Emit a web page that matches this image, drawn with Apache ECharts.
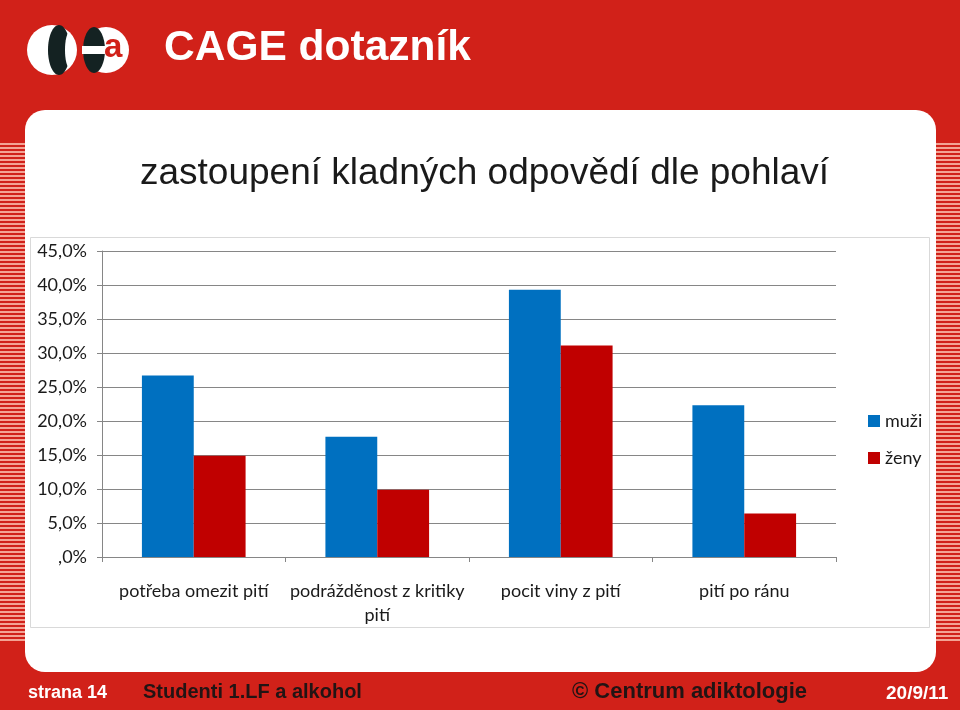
<!DOCTYPE html>
<html><head><meta charset="utf-8">
<script src="https://cdn.jsdelivr.net/npm/echarts@6/dist/echarts.min.js"></script>
<style>html,body{margin:0;padding:0;background:#d12119;}#c{width:960px;height:710px;}</style>
</head><body><div id="c"></div>
<script>
const categories = ['potřeba omezit pití', 'podrážděnost z kritiky pití', 'pocit viny z pití', 'pití po ránu'];
const muzi = [26.7, 17.7, 39.3, 22.3];
const zeny = [14.9, 9.9, 31.1, 6.4];
const seriesNames = ['muži', 'ženy'];
const yTicks = [0, 5, 10, 15, 20, 25, 30, 35, 40, 45];

const RED = '#d12119';
const stripes = [];
function addStripes(x, w, y0, y1) {
  for (let y = y0; y < y1; y += 4) {
    stripes.push({ type: 'rect', silent: true, shape: { x: x, y: y, width: w, height: 2 }, style: { fill: '#f3a394' } });
  }
}
addStripes(0, 25, 143, 643);
addStripes(936, 24, 143, 641);

function wrapWords(s, maxChars) {
  const words = s.split(' ');
  const lines = [];
  let cur = '';
  words.forEach(function (w) {
    const next = cur ? cur + ' ' + w : w;
    if (next.length > maxChars && cur) { lines.push(cur); cur = w; } else { cur = next; }
  });
  if (cur) lines.push(cur);
  return lines.join('\n');
}

const chart = echarts.init(document.getElementById('c'), null, { renderer: 'canvas' });
chart.setOption({
  backgroundColor: RED,
  animation: false,
  graphic: [
    { type: 'rect', z: -10, silent: true, shape: { x: 25, y: 110, width: 911, height: 562, r: 20 }, style: { fill: '#ffffff' } },
    ...stripes,
    { type: 'rect', z: -5, silent: true, shape: { x: 30.5, y: 237.5, width: 899, height: 390 }, style: { fill: 'none', stroke: '#d9d9d9', lineWidth: 1 } },
    // logo
    { type: 'circle', silent: true, shape: { cx: 52, cy: 50, r: 25 }, style: { fill: '#ffffff' } },
    { type: 'ellipse', silent: true, shape: { cx: 59, cy: 50, rx: 11, ry: 25 }, style: { fill: '#142222' } },
    { type: 'ellipse', silent: true, shape: { cx: 69, cy: 50, rx: 4, ry: 17 }, style: { fill: '#ffffff' } },
    { type: 'circle', silent: true, shape: { cx: 106, cy: 50, r: 23 }, style: { fill: '#ffffff' } },
    { type: 'ellipse', silent: true, shape: { cx: 94, cy: 50, rx: 11, ry: 23 }, style: { fill: '#142222' } },
    { type: 'rect', silent: true, shape: { x: 82, y: 46, width: 24, height: 8 }, style: { fill: '#ffffff' } },
    { type: 'text', silent: true, left: 104, top: 31, style: { text: 'a', fill: RED, font: 'bold 33px "Liberation Sans", Arial, sans-serif' } },
    // header
    { type: 'text', silent: true, left: 164, top: 27, style: { text: 'CAGE dotazník', fill: '#ffffff', font: 'bold 42.5px "Liberation Sans", Arial, sans-serif' } },
    // title
    { type: 'text', silent: true, left: 140, top: 155, style: { text: 'zastoupení kladných odpovědí dle pohlaví', fill: '#1a1a1a', font: '37px "Liberation Sans", Arial, sans-serif' } },
    // footer
    { type: 'text', silent: true, left: 28, top: 684, style: { text: 'strana 14', fill: '#ffffff', font: 'bold 18px "Liberation Sans Narrow", "Liberation Sans", Arial, sans-serif' } },
    { type: 'text', silent: true, left: 143, top: 682, style: { text: 'Studenti 1.LF a alkohol', fill: '#221414', font: 'bold 20px "Liberation Sans Narrow", "Liberation Sans", Arial, sans-serif' } },
    { type: 'text', silent: true, left: 572, top: 681, style: { text: '© Centrum adiktologie', fill: '#221414', font: 'bold 22px "Liberation Sans", Arial, sans-serif' } },
    { type: 'text', silent: true, left: 886, top: 684, style: { text: '20/9/11', fill: '#ffffff', font: 'bold 19px "Liberation Sans Narrow", "Liberation Sans", Arial, sans-serif' } }
  ],
  legend: {
    orient: 'vertical', left: 863, top: 407, itemWidth: 12, itemHeight: 12, itemGap: 19,
    icon: 'rect',
    textStyle: { fontFamily: 'Lato, "Open Sans", sans-serif', fontSize: 18, color: '#1a1a1a' },
    data: seriesNames
  },
  grid: { left: 102, right: 124, top: 251, bottom: 153, containLabel: false },
  xAxis: {
    type: 'category', data: categories,
    axisLine: { lineStyle: { color: '#868686', width: 1 } },
    axisTick: { show: true, alignWithLabel: false, length: 5, lineStyle: { color: '#868686' } },
    axisLabel: {
      fontFamily: 'Lato, "Open Sans", sans-serif', fontSize: 18, color: '#1a1a1a', margin: 22, lineHeight: 24, interval: 0,
      formatter: function (v) { return wrapWords(v, 22); }
    }
  },
  yAxis: {
    type: 'value', min: 0, max: 45, interval: 5,
    axisLine: { show: true, lineStyle: { color: '#868686', width: 1 } },
    axisTick: { show: true, length: 5, lineStyle: { color: '#868686' } },
    splitLine: { show: true, lineStyle: { color: '#868686', width: 1 } },
    axisLabel: {
      fontFamily: 'Lato, "Open Sans", sans-serif', fontSize: 18, color: '#1a1a1a', margin: 15,
      formatter: function (v) { return v === 0 ? ',0%' : v.toFixed(1).replace('.', ',') + '%'; }
    }
  },
  series: [
    { name: seriesNames[0], type: 'bar', data: muzi, itemStyle: { color: '#0070c0' }, barGap: '0%', barCategoryGap: '43.5%' },
    { name: seriesNames[1], type: 'bar', data: zeny, itemStyle: { color: '#c00000' }, barGap: '0%', barCategoryGap: '43.5%' }
  ]
});
</script>
</body></html>
